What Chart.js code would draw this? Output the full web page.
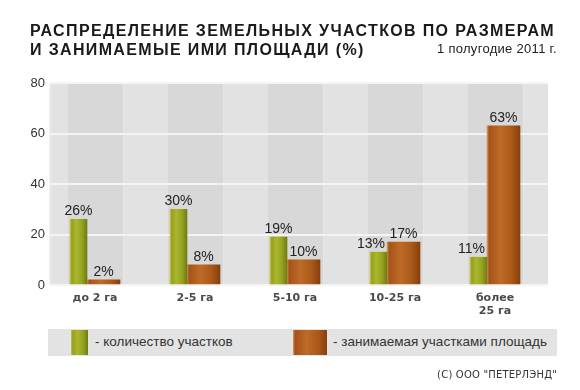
<!DOCTYPE html>
<html>
<head>
<meta charset="utf-8">
<script src="https://cdn.jsdelivr.net/npm/chart.js@4.4.1/dist/chart.umd.min.js"></script>
<style>
body{margin:0;background:#fff;width:580px;height:390px;overflow:hidden;position:relative;font-family:"Liberation Sans",Arial,sans-serif}
#chart{position:absolute;left:0;top:0}
#title{position:absolute;left:30px;top:21px;font-weight:bold;font-size:16px;letter-spacing:1.35px;color:#1a1a1a;line-height:19px;white-space:nowrap}
#period{position:absolute;right:23px;top:41px;font-size:13px;letter-spacing:0.3px;color:#222;white-space:nowrap}
#legend{position:absolute;left:48px;top:329px;width:509px;height:27px;background:#e3e3e3}
.sw{position:absolute;top:1px;height:25px}
.lt{position:absolute;top:5px;font-size:13.5px;color:#333;white-space:nowrap}
#copy{position:absolute;right:23px;top:369px;font-family:"DejaVu Sans",Verdana,sans-serif;font-size:10px;letter-spacing:0.2px;color:#333;white-space:nowrap}
</style>
</head>
<body>
<canvas id="chart" width="580" height="390"></canvas>
<div id="title">РАСПРЕДЕЛЕНИЕ ЗЕМЕЛЬНЫХ УЧАСТКОВ ПО РАЗМЕРАМ<br>И ЗАНИМАЕМЫЕ ИМИ ПЛОЩАДИ (%)</div>
<div id="period">1 полугодие 2011 г.</div>
<div id="legend">
  <div class="sw" id="sw1" style="left:23px;width:17px"></div>
  <div class="lt" style="left:47px" id="lt1"></div>
  <div class="sw" id="sw2" style="left:245px;width:34px"></div>
  <div class="lt" style="left:285px" id="lt2"></div>
</div>
<div id="copy">(С) ООО "ПЕТЕРЛЭНД"</div>
<script>
const categories = ["до 2 га", "2-5 га", "5-10 га", "10-25 га", ["более", "25 га"]];
const plotCounts = [26, 30, 19, 13, 11];
const plotAreas = [2, 8, 10, 17, 63];
const yTicks = [0, 20, 40, 60, 80];
const seriesNames = ["- количество участков", "- занимаемая участками площадь"];

// colours of the "cylinder" bars, left to right
const greenStops = [[0, "#c4c356"], [0.1, "#96a21e"], [0.38, "#aab62d"], [0.72, "#94a11f"], [1, "#6f7b12"]];
const brownStops = [[0, "#dc9c68"], [0.06, "#a4521a"], [0.4, "#be6b27"], [0.75, "#a95818"], [1, "#863f0c"]];

function cssGrad(stops){
    return "linear-gradient(to right," + stops.map(s => s[1] + " " + (s[0]*100) + "%").join(",") + ")";
}
document.getElementById("sw1").style.background = cssGrad(greenStops);
document.getElementById("sw2").style.background = cssGrad(brownStops);
document.getElementById("lt1").textContent = seriesNames[0];
document.getElementById("lt2").textContent = seriesNames[1];

function barFill(context, thick, shift, stops){
    const chart = context.chart;
    const sx = chart.scales.x;
    if(!sx || context.dataIndex === undefined) return stops[2][1];
    const left = sx.getPixelForValue(context.dataIndex) + shift;
    if(!isFinite(left)) return stops[2][1];   // first pass runs before layout
    const g = chart.ctx.createLinearGradient(left, 0, left + thick, 0);
    stops.forEach(s => g.addColorStop(s[0], s[1]));
    return g;
}

// grey plot background with darker band under every group
const plotBack = {
    id: "plotBack",
    beforeDraw(chart){
        const {ctx, chartArea: a, scales} = chart;
        ctx.save();
        ctx.fillStyle = "#e2e2e2";
        ctx.fillRect(a.left, a.top, a.right - a.left, a.bottom - a.top);
        ctx.fillStyle = "#ececec";
        ctx.fillRect(a.left, a.top, 2, a.bottom - a.top);
        categories.forEach((c, i) => {
            const px = scales.x.getPixelForValue(i);
            ctx.fillStyle = "#d8d8d8";
            ctx.fillRect(px - 19, a.top, 55, a.bottom - a.top);
            ctx.fillStyle = "#e6e6e6";
            ctx.fillRect(px + 36, a.top, 1, a.bottom - a.top);
        });
        ctx.restore();
    }
};

const valueLabels = {
    id: "valueLabels",
    afterDatasetsDraw(chart){
        const ctx = chart.ctx;
        const series = [plotCounts, plotAreas];
        ctx.save();
        ctx.font = '14px "Liberation Sans", Arial, sans-serif';
        ctx.fillStyle = "#222";
        ctx.textBaseline = "alphabetic";
        series.forEach((vals, di) => {
            chart.getDatasetMeta(di).data.forEach((bar, i) => {
                let x = bar.x;
                ctx.textAlign = "center";
                // keep the green label off the taller brown bar
                if(di === 0 && plotAreas[i] > plotCounts[i]){
                    x = bar.x + bar.width/2 - 2;
                    ctx.textAlign = "right";
                }
                ctx.fillText(vals[i] + "%", x, bar.y - 4);
            });
        });
        ctx.restore();
    }
};

new Chart(document.getElementById("chart"), {
    type: "bar",
    data: {
        datasets: [{
            label: seriesNames[0],
            data: plotCounts.map((v, i) => ({x: i, y: v})),
            barThickness: 17,
            backgroundColor: c => barFill(c, 17, -17, greenStops)
        }, {
            label: seriesNames[1],
            data: plotAreas.map((v, i) => ({x: i, y: v})),
            barThickness: 33,
            backgroundColor: c => barFill(c, 33, 0, brownStops)
        }]
    },
    options: {
        responsive: false,
        animation: false,
        layout: {padding: {left: 0, right: 32, top: 83, bottom: 65}},
        plugins: {legend: {display: false}, tooltip: {enabled: false}},
        scales: {
            x: {
                type: "linear", min: -0.38, max: 4.61, offset: false,
                grid: {display: false, drawTicks: false}, border: {display: false},
                afterBuildTicks: s => { s.ticks = categories.map((c, i) => ({value: i})); },
                afterFit: s => { s.height = 40; },
                ticks: {
                    autoSkip: false, maxRotation: 0, padding: 6, labelOffset: 8,
                    color: "#4a4a4a",
                    font: {family: '"DejaVu Sans", Verdana, sans-serif', size: 11, weight: "bold", lineHeight: 1.25},
                    callback: v => categories[v]
                }
            },
            y: {
                min: 0, max: 80,
                afterBuildTicks: s => { s.ticks = yTicks.map(v => ({value: v})); },
                afterFit: s => { s.width = 49; },
                grid: {color: "#f4f4f4", lineWidth: 2, drawTicks: false},
                border: {display: false},
                ticks: {padding: 4, color: "#333", font: {family: '"Liberation Sans", Arial, sans-serif', size: 13}}
            }
        }
    },
    plugins: [plotBack, valueLabels]
});
</script>
</body>
</html>
